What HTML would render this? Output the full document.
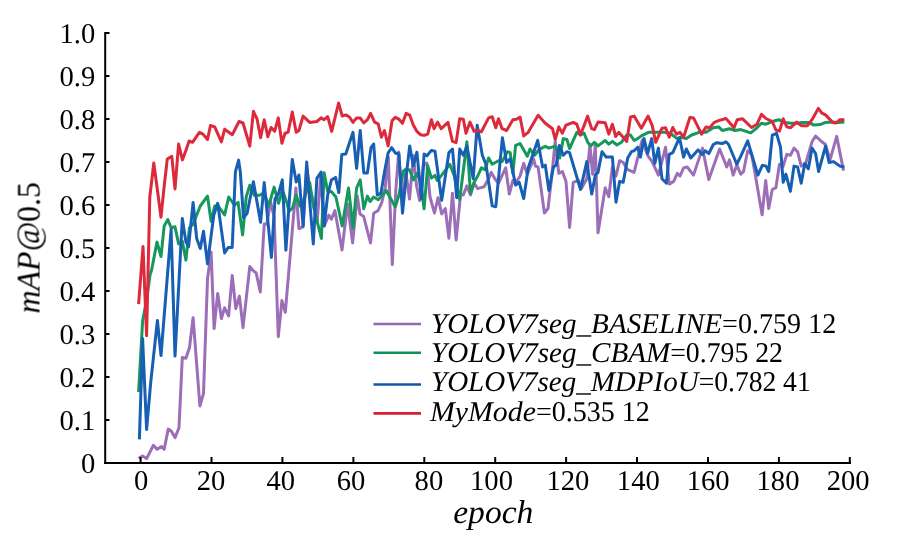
<!DOCTYPE html>
<html><head><meta charset="utf-8"><style>
html,body{margin:0;padding:0;background:#fff;}
svg{display:block}
text{text-rendering:geometricPrecision;font-family:"Liberation Serif",serif;fill:#000}
.t{font-size:28.6px}
.l{font-size:28.6px}
.a{font-size:33px}
</style></head><body>
<svg width="898" height="555" viewBox="0 0 898 555">
<defs><filter id="soft" x="-5%" y="-5%" width="110%" height="110%"><feGaussianBlur stdDeviation="0.35"/></filter><filter id="soft2" x="-5%" y="-5%" width="110%" height="110%"><feGaussianBlur stdDeviation="0.5"/></filter></defs>
<rect width="898" height="555" fill="#fff"/>
<g filter="url(#soft2)">
<polyline points="138.6,458.3 142.6,456.1 146.6,458.6 153.4,445.3 157.0,449.3 161.5,446.6 164.2,449.3 168.2,429.1 171.4,431.3 175.0,437.6 179.0,427.7 182.3,357.4 185.9,358.3 189.5,347.5 193.1,317.7 199.9,406.0 203.5,393.4 207.5,279.0 211.1,252.0 214.1,328.6 217.7,293.4 221.4,318.6 224.6,307.8 228.6,315.9 232.2,275.4 235.8,308.7 239.4,296.1 243.0,327.7 249.8,266.4 253.4,270.9 256.1,272.7 260.3,292.0 264.2,224.1 266.9,224.1 270.5,201.5 274.1,216.8 278.3,336.7 281.9,300.6 285.3,312.3 289.0,269.1 295.9,188.0 298.9,228.6 303.1,226.8 306.7,168.0 310.2,190.0 313.7,203.0 317.2,221.0 320.8,176.0 324.3,226.0 328.8,215.1 331.4,219.2 334.9,210.6 342.0,250.0 347.6,204.0 352.6,242.9 357.3,196.0 360.0,214.1 363.7,216.6 370.5,243.0 373.7,213.2 378.2,210.5 381.8,202.4 385.2,188.0 388.3,157.0 392.3,264.6 395.8,190.0 398.7,152.0 402.3,205.0 405.8,172.0 409.5,199.0 413.4,155.5 416.6,186.0 419.6,200.5 423.3,165.0 426.8,163.0 430.0,197.0 434.5,213.0 438.1,197.7 441.7,213.9 445.3,208.5 448.9,238.2 452.5,193.2 456.1,240.0 460.6,194.1 463.3,195.0 466.9,185.9 470.5,195.0 474.1,183.2 477.7,188.6 484.1,186.8 488.6,178.7 491.3,172.4 494.9,178.7 498.5,183.2 505.7,167.9 509.3,194.1 512.9,180.5 515.6,183.2 520.1,176.0 523.7,163.4 527.3,174.2 533.6,158.9 535.4,166.1 538.1,167.0 544.4,213.0 548.0,208.5 551.6,177.8 555.2,141.4 558.8,173.3 562.4,171.5 566.0,181.4 569.6,227.4 573.2,182.3 578.6,180.5 581.4,188.6 586.8,178.7 589.9,144.5 592.6,174.2 595.3,145.4 598.0,232.8 605.2,187.7 608.8,196.8 612.4,167.0 616.0,176.0 619.6,160.7 623.2,162.5 627.7,169.7 634.1,172.4 640.4,147.2 642.2,140.0 647.6,155.3 652.1,161.6 658.4,175.1 665.6,147.2 669.2,184.1 673.7,181.4 677.3,173.3 680.0,176.0 683.6,167.9 687.2,167.0 693.5,175.1 702.5,148.1 708.8,179.6 719.6,149.0 726.8,167.0 729.5,159.8 733.2,175.1 736.8,165.2 740.8,174.2 743.5,171.5 747.7,150.8 751.6,154.4 755.2,174.2 762.1,214.8 765.7,180.5 768.7,208.5 772.3,189.5 775.9,187.7 779.5,164.3 783.2,166.1 786.8,154.4 790.4,155.3 794.0,148.1 797.6,151.7 801.2,166.1 805.7,163.4 812.0,141.8 815.6,136.0 821.9,141.8 825.5,144.5 830.0,159.8 836.7,136.4 843.5,170.6" fill="none" stroke="#9c6eb7" stroke-width="3" stroke-linejoin="round" stroke-linecap="butt"/>
<polyline points="138.6,392.0 142.6,321.0 146.6,300.0 150.0,275.0 151.6,270.0 157.0,242.1 161.0,256.5 164.2,225.9 167.8,219.5 171.1,227.7 175.0,226.8 178.6,243.9 182.3,241.2 185.9,260.1 189.5,227.7 193.1,224.1 200.3,206.0 207.5,196.1 211.1,221.4 214.7,206.0 218.3,206.0 224.6,215.0 228.7,197.0 234.5,205.1 238.1,202.4 242.6,234.9 246.2,197.0 249.8,185.3 254.3,195.2 259.7,195.2 264.2,192.5 268.7,206.0 274.1,187.1 278.6,203.3 282.3,189.8 286.8,202.4 289.0,211.4 292.6,207.8 296.2,195.2 299.8,206.0 303.4,200.6 309.7,182.6 313.3,206.0 318.7,227.7 321.4,238.5 324.1,172.7 327.7,191.6 331.4,191.6 335.9,197.0 342.2,225.9 348.5,188.0 353.0,227.7 356.6,188.0 360.2,179.9 363.8,208.7 367.4,196.1 370.1,201.5 373.7,197.0 378.2,199.7 386.3,190.7 395.3,206.9 398.9,195.2 403.4,170.9 406.1,169.1 409.7,170.0 413.3,179.9 416.9,173.6 420.5,180.8 424.1,208.7 427.7,165.7 431.4,178.1 435.0,175.4 437.2,180.5 441.7,175.1 449.8,164.3 454.3,176.0 459.7,199.5 466.9,141.8 470.5,193.2 474.1,182.3 477.7,176.0 481.4,167.9 485.0,169.7 488.6,158.0 492.2,164.3 498.5,160.7 502.1,161.6 507.5,151.7 510.2,152.6 512.9,173.3 515.6,145.4 520.1,143.6 527.3,156.2 530.0,149.0 534.5,155.3 538.1,150.8 541.7,148.1 545.3,146.3 548.9,148.1 554.3,146.3 556.1,147.2 559.7,158.0 563.3,138.6 566.9,139.5 569.6,148.6 576.8,132.3 580.5,135.0 584.1,133.2 587.7,142.3 590.8,145.9 594.4,142.3 598.0,145.9 605.2,140.5 608.8,144.1 612.4,141.4 616.9,145.0 621.4,142.3 626.8,135.0 630.5,135.0 634.1,140.5 637.7,138.6 641.3,135.9 648.5,132.3 657.5,132.3 664.7,132.3 670.1,133.2 677.3,138.6 680.9,137.2 686.3,138.6 691.7,135.0 698.9,132.3 706.1,132.3 713.3,127.8 718.7,126.9 722.3,130.5 729.5,128.7 735.0,130.5 740.8,129.6 750.7,132.9 757.0,127.8 761.5,123.3 766.0,124.2 772.3,121.5 778.6,119.7 784.1,122.4 791.3,123.3 796.7,123.3 802.1,122.4 809.3,122.4 813.8,125.1 820.1,124.6 825.5,122.4 830.9,122.1 838.1,122.4 844.4,122.1" fill="none" stroke="#16985d" stroke-width="3" stroke-linejoin="round" stroke-linecap="butt"/>
<polyline points="139.4,439.4 142.6,338.5 146.6,429.5 150.7,382.6 157.4,320.5 161.0,355.6 171.1,229.5 175.0,356.1 182.3,218.6 185.9,242.1 188.6,246.6 193.1,202.4 196.7,238.5 200.3,248.4 203.5,231.3 207.5,263.7 213.8,215.0 217.7,203.3 224.6,252.9 228.2,247.5 232.2,247.5 235.4,171.8 238.6,160.1 240.3,171.8 243.5,217.7 247.1,213.2 253.4,181.7 260.6,222.3 264.2,182.6 271.4,257.4 275.0,198.8 278.6,193.4 282.3,179.9 285.9,250.2 289.0,205.0 292.3,159.4 296.2,182.0 298.9,175.0 303.1,225.9 306.7,162.1 310.0,205.0 313.3,243.9 316.9,178.3 321.1,172.0 324.1,225.9 327.7,195.0 331.4,180.0 335.5,177.4 338.8,192.6 341.8,154.5 345.8,154.0 349.4,143.0 353.0,132.3 356.6,168.4 360.2,130.5 363.8,172.9 367.4,172.9 371.0,147.7 373.7,144.0 377.3,195.2 381.0,193.0 384.5,172.0 388.1,153.0 391.7,147.7 395.3,153.0 398.9,154.0 402.5,213.2 406.0,178.0 409.7,145.9 413.3,165.7 416.9,152.2 421.4,198.8 424.1,154.0 426.9,155.8 431.4,150.4 435.0,151.3 441.7,200.4 448.9,152.6 452.5,149.0 456.7,197.7 459.7,149.0 463.3,155.3 466.9,146.3 473.2,178.7 477.2,125.2 482.3,155.3 485.9,164.3 492.2,205.8 495.8,206.7 502.4,137.8 506.6,162.5 510.2,158.9 515.6,185.0 519.2,182.3 523.7,198.6 528.2,167.9 537.7,140.4 542.6,167.0 545.3,165.2 548.9,190.5 553.4,167.0 556.1,165.2 559.4,145.4 563.3,155.3 566.9,151.7 569.6,152.6 580.5,189.5 586.8,161.6 591.7,194.1 595.3,175.1 598.0,172.4 602.0,151.7 606.1,157.1 612.4,157.1 616.0,202.2 619.6,181.4 623.2,182.3 627.7,158.0 631.4,151.7 634.1,150.8 637.7,147.2 640.4,157.1 644.0,138.6 647.6,153.5 651.7,138.6 654.8,163.4 658.4,148.1 662.0,178.7 666.5,183.2 669.2,154.4 672.8,152.6 679.5,137.7 683.6,157.1 686.3,149.0 690.8,158.0 698.0,149.9 702.5,154.4 705.2,150.8 708.8,153.5 713.3,144.5 716.9,142.7 722.3,143.6 725.9,141.8 728.6,144.5 736.8,164.3 740.8,156.2 747.7,140.9 757.9,175.1 762.4,165.2 766.0,166.1 768.7,171.5 772.3,135.1 776.5,133.3 780.5,147.2 783.2,182.3 785.9,174.2 790.4,191.4 794.0,166.1 797.6,167.0 801.2,183.2 804.8,163.4 808.4,168.8 812.0,148.1 815.6,153.5 818.6,171.5 825.5,146.3 829.1,162.5 833.6,161.6 839.9,166.1 844.4,167.0" fill="none" stroke="#155eb4" stroke-width="3" stroke-linejoin="round" stroke-linecap="butt"/>
<polyline points="138.6,304.2 143.0,246.6 146.6,335.8 149.8,197.0 153.8,163.0 157.4,190.0 161.0,217.2 164.3,185.0 167.3,159.0 171.8,156.3 175.0,188.9 178.6,144.1 182.4,159.9 185.9,150.4 189.1,141.0 192.5,142.3 199.4,132.3 203.0,134.1 207.5,139.5 210.5,125.5 214.7,126.9 221.4,141.9 224.6,129.3 232.3,134.7 239.0,121.5 243.0,123.0 249.8,146.2 253.4,111.3 257.0,118.8 260.6,137.7 264.2,119.7 267.8,136.8 271.1,127.5 274.7,131.1 278.3,117.9 281.9,143.2 285.0,133.2 288.1,132.3 292.3,112.0 296.2,132.3 298.9,130.5 303.1,116.1 309.7,122.4 316.9,121.5 321.1,117.9 324.1,119.7 327.7,116.7 331.7,131.4 338.6,103.0 342.2,116.1 345.8,114.9 349.4,117.0 353.0,122.4 356.6,117.9 360.2,117.9 363.8,123.0 367.4,119.7 370.6,113.4 374.6,122.1 378.2,123.9 381.4,137.2 384.5,130.5 388.1,145.9 392.1,120.6 395.3,117.4 398.9,119.2 402.5,123.3 406.1,113.4 409.7,115.2 413.3,125.1 416.9,131.4 420.5,134.7 424.1,135.4 427.7,134.1 431.4,119.7 434.0,128.7 437.6,122.1 441.2,128.7 448.0,122.4 452.5,141.4 456.1,142.6 459.7,118.8 463.3,119.2 466.0,133.2 470.0,122.1 474.1,131.4 477.7,130.5 481.4,131.8 488.6,117.9 492.2,116.7 495.8,127.8 498.5,118.8 502.1,128.7 506.6,130.5 512.9,119.7 516.5,119.2 520.1,117.0 523.7,135.9 528.2,132.3 538.1,115.2 545.3,123.3 552.5,128.7 555.2,139.5 558.8,126.9 562.4,133.2 566.0,125.1 573.2,122.4 576.8,124.2 580.5,135.0 587.6,116.1 591.7,128.7 594.4,129.6 598.0,122.1 605.2,122.8 608.8,134.1 612.4,124.2 615.7,136.5 618.7,132.3 626.8,141.4 630.5,117.0 634.1,116.1 641.3,128.2 648.1,116.1 652.1,125.1 655.7,142.3 662.0,128.2 665.6,127.8 669.2,137.2 672.8,127.5 676.4,134.1 680.0,132.3 683.6,137.2 689.9,117.4 693.5,117.9 701.6,134.1 706.1,126.9 709.7,127.8 714.2,122.4 718.7,120.6 725.9,118.5 734.1,127.8 737.2,119.7 742.6,118.8 751.6,127.5 757.0,124.2 761.5,114.3 766.0,118.5 772.3,121.5 775.9,130.0 779.5,131.1 783.2,118.8 786.8,126.9 790.4,127.8 796.7,122.1 801.2,125.7 807.5,125.7 812.0,119.7 818.3,108.4 821.9,113.1 825.5,114.9 832.7,122.4 836.3,123.0 839.9,119.7 844.4,119.7" fill="none" stroke="#dc293b" stroke-width="3" stroke-linejoin="round" stroke-linecap="butt"/>
</g>
<line x1="105.2" y1="32" x2="105.2" y2="464" stroke="#000" stroke-width="2"/>
<line x1="104.2" y1="463" x2="851" y2="463" stroke="#000" stroke-width="2"/>
<g filter="url(#soft)">
<line x1="106" y1="463" x2="109.5" y2="463" stroke="#000" stroke-width="2"/>
<text x="95.2" y="472.6" text-anchor="end" class="t">0</text>
<line x1="106" y1="420" x2="109.5" y2="420" stroke="#000" stroke-width="2"/>
<text x="95.2" y="429.6" text-anchor="end" class="t">0.1</text>
<line x1="106" y1="377" x2="109.5" y2="377" stroke="#000" stroke-width="2"/>
<text x="95.2" y="386.6" text-anchor="end" class="t">0.2</text>
<line x1="106" y1="334" x2="109.5" y2="334" stroke="#000" stroke-width="2"/>
<text x="95.2" y="343.6" text-anchor="end" class="t">0.3</text>
<line x1="106" y1="291" x2="109.5" y2="291" stroke="#000" stroke-width="2"/>
<text x="95.2" y="300.6" text-anchor="end" class="t">0.4</text>
<line x1="106" y1="248" x2="109.5" y2="248" stroke="#000" stroke-width="2"/>
<text x="95.2" y="257.6" text-anchor="end" class="t">0.5</text>
<line x1="106" y1="205" x2="109.5" y2="205" stroke="#000" stroke-width="2"/>
<text x="95.2" y="214.6" text-anchor="end" class="t">0.6</text>
<line x1="106" y1="162" x2="109.5" y2="162" stroke="#000" stroke-width="2"/>
<text x="95.2" y="171.6" text-anchor="end" class="t">0.7</text>
<line x1="106" y1="119" x2="109.5" y2="119" stroke="#000" stroke-width="2"/>
<text x="95.2" y="128.6" text-anchor="end" class="t">0.8</text>
<line x1="106" y1="76" x2="109.5" y2="76" stroke="#000" stroke-width="2"/>
<text x="95.2" y="85.6" text-anchor="end" class="t">0.9</text>
<line x1="106" y1="33" x2="109.5" y2="33" stroke="#000" stroke-width="2"/>
<text x="95.2" y="42.6" text-anchor="end" class="t">1.0</text>
<line x1="140.6" y1="457" x2="140.6" y2="462" stroke="#000" stroke-width="2"/>
<text x="141.2" y="490" text-anchor="middle" class="t">0</text>
<line x1="211.5" y1="457" x2="211.5" y2="462" stroke="#000" stroke-width="2"/>
<text x="211.1" y="490" text-anchor="middle" class="t">20</text>
<line x1="282.4" y1="457" x2="282.4" y2="462" stroke="#000" stroke-width="2"/>
<text x="280.7" y="490" text-anchor="middle" class="t">40</text>
<line x1="353.4" y1="457" x2="353.4" y2="462" stroke="#000" stroke-width="2"/>
<text x="351" y="490" text-anchor="middle" class="t">60</text>
<line x1="424.3" y1="457" x2="424.3" y2="462" stroke="#000" stroke-width="2"/>
<text x="428.9" y="490" text-anchor="middle" class="t">80</text>
<line x1="495.2" y1="457" x2="495.2" y2="462" stroke="#000" stroke-width="2"/>
<text x="491.5" y="490" text-anchor="middle" class="t">100</text>
<line x1="566.1" y1="457" x2="566.1" y2="462" stroke="#000" stroke-width="2"/>
<text x="567.9" y="490" text-anchor="middle" class="t">120</text>
<line x1="637.0" y1="457" x2="637.0" y2="462" stroke="#000" stroke-width="2"/>
<text x="638.3" y="490" text-anchor="middle" class="t">140</text>
<line x1="708.0" y1="457" x2="708.0" y2="462" stroke="#000" stroke-width="2"/>
<text x="708.2" y="490" text-anchor="middle" class="t">160</text>
<line x1="778.9" y1="457" x2="778.9" y2="462" stroke="#000" stroke-width="2"/>
<text x="778" y="490" text-anchor="middle" class="t">180</text>
<line x1="849.8" y1="457" x2="849.8" y2="462" stroke="#000" stroke-width="2"/>
<text x="848.2" y="490" text-anchor="middle" class="t">200</text>
<line x1="373.5" y1="323.95" x2="421" y2="323.95" stroke="#9466b0" stroke-width="2.6"/>
<text x="431" y="333.1" class="l" font-style="italic" textLength="291.1" lengthAdjust="spacingAndGlyphs">YOLOV7seg_BASELINE</text>
<text x="722.1" y="333.1" class="l" textLength="114.2" lengthAdjust="spacingAndGlyphs">=0.759 12</text>
<line x1="373.5" y1="352.7" x2="421" y2="352.7" stroke="#0f9055" stroke-width="2.6"/>
<text x="431" y="361.9" class="l" font-style="italic" textLength="239.2" lengthAdjust="spacingAndGlyphs">YOLOV7seg_CBAM</text>
<text x="670.2" y="361.9" class="l" textLength="112.8" lengthAdjust="spacingAndGlyphs">=0.795 22</text>
<line x1="373.5" y1="384.5" x2="421" y2="384.5" stroke="#0c57ad" stroke-width="2.6"/>
<text x="431" y="391" class="l" font-style="italic" textLength="267.7" lengthAdjust="spacingAndGlyphs">YOLOV7seg_MDPIoU</text>
<text x="698.7" y="391" class="l" textLength="112.0" lengthAdjust="spacingAndGlyphs">=0.782 41</text>
<line x1="373.5" y1="413.4" x2="421" y2="413.4" stroke="#d81a33" stroke-width="2.6"/>
<text x="430" y="420.7" class="l" font-style="italic" textLength="105.9" lengthAdjust="spacingAndGlyphs">MyMode</text>
<text x="535.9" y="420.7" class="l" textLength="114.0" lengthAdjust="spacingAndGlyphs">=0.535 12</text>

<text class="a" transform="translate(39.5,313.5) rotate(-90)" textLength="131.5" lengthAdjust="spacingAndGlyphs"><tspan font-style="italic">mAP@</tspan>0.5</text>
<text class="a" x="453.2" y="522.8" font-style="italic" textLength="80.2" lengthAdjust="spacingAndGlyphs">epoch</text>
</g>
</svg>
</body></html>
